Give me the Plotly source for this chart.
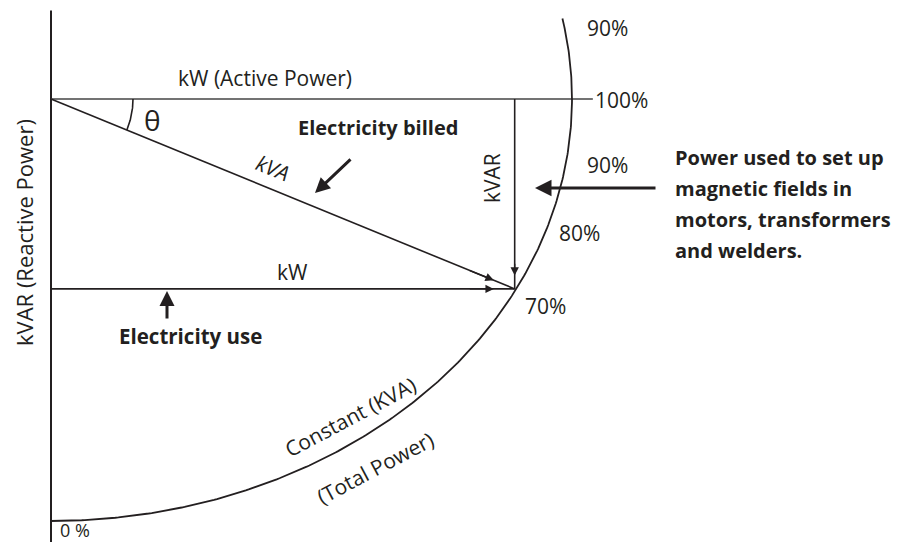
import numpy as np
import plotly.graph_objects as go

# ---------------- data ----------------
kva = 1.0                 # constant apparent power (radius of the locus)
kw = 0.89                 # active power at the operating point (fraction of kVA)
kvar = 0.45               # reactive power at the operating point (fraction of kVA)
arc_start_deg = -90.0     # locus starts at 0 %
arc_end_deg = 11.0        # locus ends above the 100 % line
axis_top = 0.21
axis_bottom = -1.05
active_len = 1.04
pf_labels = ["90%", "100%", "90%", "80%", "70%", "0 %"]

# ---------------- layout helpers (screen pixel -> data) ----------------
VW, VH = 899, 544        # browser viewport
PAD = 8                  # default page margin around the plot div
OX, OY = 51, 99          # screen position of the origin of the triangle
RX, RY = 521, 422        # pixel size of one kVA unit horizontally / vertically


def X(px):
    return (px - OX) / RX


def Y(py):
    return (OY - py) / RY


INK = "#231f20"
FONT = "Open Sans"
FS = 21      # regular label size
FB = 20      # bold label size

fig = go.Figure()


def line(xs, ys, w=1.6, color=INK):
    fig.add_trace(go.Scatter(x=xs, y=ys, mode="lines",
                             line=dict(color=color, width=w),
                             hoverinfo="skip", showlegend=False))


# vertical kVAR axis
line([0, 0], [axis_top, axis_bottom], w=2)
# active power line
line([0, active_len], [0, 0], w=1.5, color="#444")
# kVA hypotenuse
line([0, kw], [0, -kvar], w=1.6)
# kW line
line([0, kw], [-kvar, -kvar], w=1.6)
# kVAR drop
line([kw, kw], [0, -kvar], w=1.6)

# constant kVA locus
t = np.radians(np.linspace(arc_start_deg, arc_end_deg, 300))
line(kva * np.cos(t), kva * np.sin(t), w=1.8)

# theta angle arc (circular in pixels, radius 82 px)
theta_px = np.arctan2(kvar * RY, kw * RX)
ta = np.linspace(-theta_px, 0, 60)
line(82 / RX * np.cos(ta), 82 / RY * np.sin(ta), w=1.6)

annotations = []


def arrow(tip, tail, w, size):
    annotations.append(dict(x=tip[0], y=tip[1], ax=tail[0], ay=tail[1],
                            xref="x", yref="y", axref="x", ayref="y",
                            text="", showarrow=True, arrowhead=2,
                            arrowwidth=w, arrowsize=size, arrowcolor=INK,
                            standoff=0, startstandoff=0))


# arrowheads along the triangle sides
arrow((0.955 * kw, -kvar), (0.90 * kw, -kvar), 1.4, 1.2)
arrow((0.955 * kw, -0.955 * kvar), (0.90 * kw, -0.90 * kvar), 1.4, 1.2)
arrow((kw, -0.93 * kvar), (kw, -0.86 * kvar), 1.4, 1.2)

# thick callout arrows
arrow((X(315), Y(193)), (X(352), Y(158)), 3, 1.0)
arrow((X(167), Y(291)), (X(167), Y(320)), 3, 1.0)
arrow((X(535), Y(188)), (X(657), Y(188)), 3, 1.1)


def text(s, px, py, size=FS, bold=False, angle=0, xanchor="center",
         yanchor="middle"):
    annotations.append(dict(x=X(px), y=Y(py), xref="x", yref="y",
                            text=f"<b>{s}</b>" if bold else s,
                            showarrow=False, textangle=angle,
                            xanchor=xanchor, yanchor=yanchor,
                            font=dict(family=FONT, size=size, color=INK)))


text("kW (Active Power)", 265, 78)
text("θ", 152, 120, size=28)
text("Electricity billed", 378, 127, size=FB, bold=True)
text("<i>kVA</i>", 273, 168, angle=22)
text("kVAR", 492, 178, angle=-90)
text("kW", 292, 272)
text("Electricity use", 190, 336, size=20.5, bold=True)
text("kVAR (Reactive Power)", 24, 233, size=22, angle=-90)
text("Constant (KVA)", 350, 417, angle=-28)
text("(Total Power)", 375, 468, angle=-28)

# percentage marks on the locus
pct_pos = [(585, 28), (593, 100), (585, 165), (557, 233), (523, 306)]
for s, (px, py) in zip(pf_labels[:-1], pct_pos):
    text(s, px, py, xanchor="left")
# 0 % mark sits right at the bottom edge, anchored by its box bottom
text(pf_labels[-1], 58, VH, size=18, xanchor="left", yanchor="bottom")

for i, s in enumerate(["Power used to set up", "magnetic fields in",
                       "motors, transformers", "and welders."]):
    text(s, 673, 157 + i * 31, size=FB, bold=True, xanchor="left")

fig.update_layout(
    width=VW - PAD, height=VH - PAD, autosize=False,
    margin=dict(l=0, r=0, t=0, b=0),
    paper_bgcolor="white", plot_bgcolor="white",
    xaxis=dict(range=[X(PAD), X(VW)], visible=False, fixedrange=True),
    yaxis=dict(range=[Y(VH), Y(PAD)], visible=False, fixedrange=True),
    annotations=annotations,
    showlegend=False,
)

fig.write_html("out.html")
